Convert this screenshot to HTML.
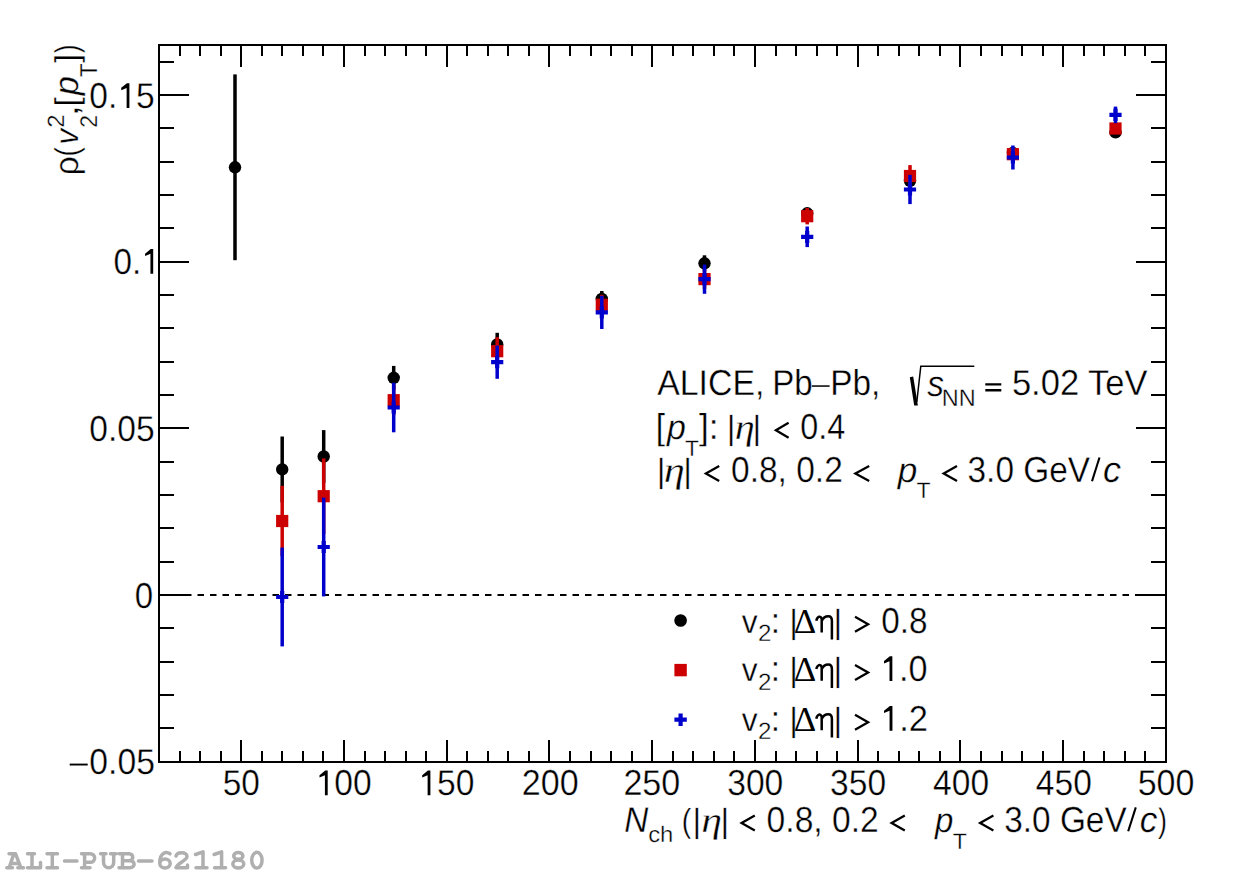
<!DOCTYPE html>
<html><head><meta charset="utf-8"><style>
html,body{margin:0;padding:0;background:#fff;width:1240px;height:875px;overflow:hidden}
svg{display:block;position:absolute;left:0;top:0}
text{stroke:#fff;stroke-width:0.35px}
text[font-family="Liberation Serif"]:not([font-style]){stroke:none}
</style></head><body>
<svg width="1240" height="875" viewBox="0 0 1240 875" font-family="'Liberation Sans', sans-serif" text-rendering="geometricPrecision">
<rect x="159" y="45" width="1007" height="717" fill="none" stroke="#000" stroke-width="2"/>
<path d="M159 762V751M159 45V56M180 762V751M180 45V56M200 762V751M200 45V56M221 762V751M221 45V56M241 762V740M241 45V67M262 762V751M262 45V56M282 762V751M282 45V56M303 762V751M303 45V56M323 762V751M323 45V56M344 762V740M344 45V67M365 762V751M365 45V56M385 762V751M385 45V56M406 762V751M406 45V56M426 762V751M426 45V56M447 762V740M447 45V67M467 762V751M467 45V56M488 762V751M488 45V56M508 762V751M508 45V56M529 762V751M529 45V56M549 762V740M549 45V67M570 762V751M570 45V56M591 762V751M591 45V56M611 762V751M611 45V56M632 762V751M632 45V56M652 762V740M652 45V67M673 762V751M673 45V56M693 762V751M693 45V56M714 762V751M714 45V56M734 762V751M734 45V56M755 762V740M755 45V67M776 762V751M776 45V56M796 762V751M796 45V56M817 762V751M817 45V56M837 762V751M837 45V56M858 762V740M858 45V67M878 762V751M878 45V56M899 762V751M899 45V56M919 762V751M919 45V56M940 762V751M940 45V56M960 762V740M960 45V67M981 762V751M981 45V56M1002 762V751M1002 45V56M1022 762V751M1022 45V56M1043 762V751M1043 45V56M1063 762V740M1063 45V67M1084 762V751M1084 45V56M1104 762V751M1104 45V56M1125 762V751M1125 45V56M1145 762V751M1145 45V56M1166 762V740M1166 45V67M159 762H189M1166 762H1136M159 728H174M1166 728H1151M159 695H174M1166 695H1151M159 662H174M1166 662H1151M159 628H174M1166 628H1151M159 595H189M1166 595H1136M159 562H174M1166 562H1151M159 528H174M1166 528H1151M159 495H174M1166 495H1151M159 462H174M1166 462H1151M159 428H189M1166 428H1136M159 395H174M1166 395H1151M159 362H174M1166 362H1151M159 328H174M1166 328H1151M159 295H174M1166 295H1151M159 262H189M1166 262H1136M159 228H174M1166 228H1151M159 195H174M1166 195H1151M159 162H174M1166 162H1151M159 128H174M1166 128H1151M159 95H189M1166 95H1136M159 62H174M1166 62H1151" stroke="#000" stroke-width="2" fill="none"/>
<line x1="160" y1="595" x2="1165" y2="595" stroke="#000" stroke-width="2" stroke-dasharray="6.5,6"/>
<path d="M235 74.4V260.2" stroke="#000" stroke-width="3.5"/>
<circle cx="235" cy="167.3" r="6.2" fill="#000"/>
<path d="M282.2 436.5V502.3" stroke="#000" stroke-width="3.5"/>
<circle cx="282.2" cy="469.4" r="6.2" fill="#000"/>
<path d="M323.7 430.1V482.9" stroke="#000" stroke-width="3.5"/>
<circle cx="323.7" cy="456.5" r="6.2" fill="#000"/>
<path d="M393.7 365.9V389.7" stroke="#000" stroke-width="3.5"/>
<circle cx="393.7" cy="377.8" r="6.2" fill="#000"/>
<path d="M497.2 332.8V356.2" stroke="#000" stroke-width="3.5"/>
<circle cx="497.2" cy="344.5" r="6.2" fill="#000"/>
<path d="M601.8 291.0V306.8" stroke="#000" stroke-width="3.5"/>
<circle cx="601.8" cy="298.9" r="6.2" fill="#000"/>
<path d="M704.5 255.3V271.3" stroke="#000" stroke-width="3.5"/>
<circle cx="704.5" cy="263.3" r="6.2" fill="#000"/>

<circle cx="807.2" cy="213.3" r="6.2" fill="#000"/>

<circle cx="910" cy="180.8" r="6.2" fill="#000"/>

<circle cx="1012.9" cy="153" r="6.2" fill="#000"/>

<circle cx="1115.5" cy="132.3" r="6.2" fill="#000"/>
<path d="M282.2 485.8V556.2" stroke="#cc0000" stroke-width="3.5"/>
<rect x="276.1" y="514.9" width="12.2" height="12.2" fill="#cc0000"/>
<path d="M323.7 458.4V534.0" stroke="#cc0000" stroke-width="3.5"/>
<rect x="317.6" y="490.1" width="12.2" height="12.2" fill="#cc0000"/>
<path d="M393.7 385.2V415.2" stroke="#cc0000" stroke-width="3.5"/>
<rect x="387.6" y="394.1" width="12.2" height="12.2" fill="#cc0000"/>
<path d="M497.2 337.2V365.2" stroke="#cc0000" stroke-width="3.5"/>
<rect x="491.1" y="345.1" width="12.2" height="12.2" fill="#cc0000"/>
<path d="M601.8 294.8V314.8" stroke="#cc0000" stroke-width="3.5"/>
<rect x="595.7" y="298.7" width="12.2" height="12.2" fill="#cc0000"/>
<path d="M704.5 269.1V289.1" stroke="#cc0000" stroke-width="3.5"/>
<rect x="698.4" y="273.0" width="12.2" height="12.2" fill="#cc0000"/>
<path d="M807.2 208.0V224.4" stroke="#cc0000" stroke-width="3.5"/>
<rect x="801.1" y="210.1" width="12.2" height="12.2" fill="#cc0000"/>
<path d="M910 165.1V186.9" stroke="#cc0000" stroke-width="3.5"/>
<rect x="903.9" y="169.9" width="12.2" height="12.2" fill="#cc0000"/>

<rect x="1006.8" y="148.1" width="12.2" height="12.2" fill="#cc0000"/>

<rect x="1109.4" y="122.4" width="12.2" height="12.2" fill="#cc0000"/>
<path d="M282.2 547.6V646.4" stroke="#0000cc" stroke-width="3.5"/>
<path d="M276.1 597H288.3M282.2 590.9V603.1" stroke="#0000cc" stroke-width="4.2"/>
<path d="M323.7 497.6V596.4" stroke="#0000cc" stroke-width="3.5"/>
<path d="M317.6 547H329.8M323.7 540.9V553.1" stroke="#0000cc" stroke-width="4.2"/>
<path d="M393.7 382.7V432.3" stroke="#0000cc" stroke-width="3.5"/>
<path d="M387.6 407.5H399.8M393.7 401.4V413.6" stroke="#0000cc" stroke-width="4.2"/>
<path d="M497.2 345.6V378.8" stroke="#0000cc" stroke-width="3.5"/>
<path d="M491.1 362.2H503.3M497.2 356.1V368.3" stroke="#0000cc" stroke-width="4.2"/>
<path d="M601.8 295.8V329.0" stroke="#0000cc" stroke-width="3.5"/>
<path d="M595.7 312.4H607.9M601.8 306.3V318.5" stroke="#0000cc" stroke-width="4.2"/>
<path d="M704.5 264.6V293.8" stroke="#0000cc" stroke-width="3.5"/>
<path d="M698.4 279.2H710.6M704.5 273.1V285.3" stroke="#0000cc" stroke-width="4.2"/>
<path d="M807.2 226.5V247.1" stroke="#0000cc" stroke-width="3.5"/>
<path d="M801.1 236.8H813.3M807.2 230.7V242.9" stroke="#0000cc" stroke-width="4.2"/>
<path d="M910 174.9V204.1" stroke="#0000cc" stroke-width="3.5"/>
<path d="M903.9 189.5H916.1M910 183.4V195.6" stroke="#0000cc" stroke-width="4.2"/>
<path d="M1012.9 145.5V169.5" stroke="#0000cc" stroke-width="3.5"/>
<path d="M1006.8 157.5H1019.0M1012.9 151.4V163.6" stroke="#0000cc" stroke-width="4.2"/>
<path d="M1115.5 106.6V123.2" stroke="#0000cc" stroke-width="3.5"/>
<path d="M1109.4 114.9H1121.6M1115.5 108.8V121.0" stroke="#0000cc" stroke-width="4.2"/>
<circle cx="680.6" cy="620.5" r="6.3" fill="#000"/>
<rect x="674.4" y="663.9" width="12.4" height="12.4" fill="#cc0000"/>
<path d="M674.4 719.7H686.8M680.6 713.5V725.9" stroke="#0000cc" stroke-width="4.2"/>
<rect x="69.7" y="763.6" width="18" height="1.9" fill="#000"/>
<text transform="translate(89.29,107.9) scale(0.9324,1)" font-size="36" xml:space="preserve">0. 5</text><polygon points="126.63,88.04 121.22,90.32 121.22,87.86 126.95,83.13 129.41,83.13 129.41,107.90 126.63,107.90"/>
<text transform="translate(113.40,273.7) scale(0.9250,1)" font-size="36" xml:space="preserve">0. </text><polygon points="150.44,253.84 145.07,256.12 145.07,253.66 150.76,248.93 153.20,248.93 153.20,273.70 150.44,273.70"/>
<text transform="translate(89.29,441.0) scale(0.9324,1)" font-size="36" xml:space="preserve">0.05</text>
<text transform="translate(134.71,608.3) scale(0.9182,1)" font-size="36" xml:space="preserve">0</text>
<text transform="translate(89.28,774.4) scale(0.9368,1)" font-size="36" xml:space="preserve">0.05</text>
<text transform="translate(222.66,795.2) scale(0.9277,1)" font-size="36" xml:space="preserve">50</text>
<text transform="translate(315.56,795.2) scale(0.9334,1)" font-size="36" xml:space="preserve"> 00</text><polygon points="324.91,775.34 319.50,777.62 319.50,775.16 325.24,770.43 327.70,770.43 327.70,795.20 324.91,795.20"/>
<text transform="translate(418.26,795.2) scale(0.9334,1)" font-size="36" xml:space="preserve"> 50</text><polygon points="427.61,775.34 422.20,777.62 422.20,775.16 427.94,770.43 430.40,770.43 430.40,795.20 427.61,795.20"/>
<text transform="translate(521.80,795.2) scale(0.9464,1)" font-size="36" xml:space="preserve">200</text>
<text transform="translate(623.40,795.2) scale(0.9464,1)" font-size="36" xml:space="preserve">250</text>
<text transform="translate(727.22,795.2) scale(0.9341,1)" font-size="36" xml:space="preserve">300</text>
<text transform="translate(830.07,795.2) scale(0.9320,1)" font-size="36" xml:space="preserve">350</text>
<text transform="translate(933.08,795.2) scale(0.9320,1)" font-size="36" xml:space="preserve">400</text>
<text transform="translate(1035.83,795.2) scale(0.9320,1)" font-size="36" xml:space="preserve">450</text>
<text transform="translate(1137.64,795.2) scale(0.9440,1)" font-size="36" xml:space="preserve">500</text>
<text transform="translate(657.23,394.7) scale(0.9392,1)" font-size="36" xml:space="preserve">ALICE,</text>
<text transform="translate(772.19,394.7) scale(0.9175,1)" font-size="36" xml:space="preserve">Pb</text>
<rect x="811.8" y="385.3" width="17.8" height="1.5" fill="#000"/>
<text transform="translate(830.27,394.7) scale(0.9259,1)" font-size="36" xml:space="preserve">Pb,</text>
<text transform="translate(927.20,395.7) scale(0.9279,1)" font-size="36" font-style="italic" xml:space="preserve">s</text>
<text transform="translate(941.78,405.5) scale(0.9758,1)" font-size="24" xml:space="preserve">NN</text>
<path d="M985.3 383.3h16v2.3h-16zM985.3 389.1h16v2.3h-16z"/>
<text transform="translate(1011.92,394.7) scale(0.9591,1)" font-size="36" xml:space="preserve">5.02 TeV</text>
<path d="M916.8 402L920.8 366.2H974.3" fill="none" stroke="#000" stroke-width="1.5"/><path d="M909.8 377.3L913.2 376.4L917.9 405.5L914.2 405.6Z" fill="#000"/>
<text transform="translate(655.74,438.7) scale(0.9250,1)" font-size="36" xml:space="preserve">[</text>
<text transform="translate(666.95,438.7) scale(0.9820,1)" font-size="34.5" font-style="italic" xml:space="preserve">p</text>
<text transform="translate(685.00,455.8) scale(1.0360,1)" font-size="22" xml:space="preserve">T</text>
<text transform="translate(698.92,438.7) scale(0.9786,1)" font-size="36" xml:space="preserve">]:</text>
<text transform="translate(726.82,438.7) scale(1.0000,1)" font-size="33.5" xml:space="preserve">|</text>
<text transform="translate(734.85,438.7) scale(1.1204,1)" font-size="36" font-family="Liberation Serif" font-style="italic" xml:space="preserve">η</text>
<text transform="translate(752.62,438.7) scale(1.0000,1)" font-size="33.5" xml:space="preserve">|</text>
<polyline points="788.60,422.70 775.90,430.20 788.60,437.70" fill="none" stroke="#000" stroke-width="2.3" stroke-linejoin="miter"/>
<text transform="translate(800.34,438.7) scale(0.8993,1)" font-size="36" xml:space="preserve">0.4</text>
<text transform="translate(656.72,481.9) scale(1.0000,1)" font-size="33.5" xml:space="preserve">|</text>
<text transform="translate(663.77,481.9) scale(1.1801,1)" font-size="36" font-family="Liberation Serif" font-style="italic" xml:space="preserve">η</text>
<text transform="translate(683.32,481.9) scale(1.0000,1)" font-size="33.5" xml:space="preserve">|</text>
<polyline points="719.20,465.90 705.90,473.40 719.20,480.90" fill="none" stroke="#000" stroke-width="2.3" stroke-linejoin="miter"/>
<text transform="translate(730.99,481.9) scale(0.9308,1)" font-size="36" xml:space="preserve">0.8, 0.2</text>
<polyline points="869.20,465.90 855.40,473.40 869.20,480.90" fill="none" stroke="#000" stroke-width="2.3" stroke-linejoin="miter"/>
<text transform="translate(897.78,481.9) scale(1.0190,1)" font-size="34.5" font-style="italic" xml:space="preserve">p</text>
<text transform="translate(916.49,498.2) scale(1.0440,1)" font-size="22" xml:space="preserve">T</text>
<polyline points="957.00,465.90 943.70,473.40 957.00,480.90" fill="none" stroke="#000" stroke-width="2.3" stroke-linejoin="miter"/>
<text transform="translate(967.53,481.9) scale(0.9277,1)" font-size="36" xml:space="preserve">3.0 GeV</text>
<path d="M1092 481.2L1099.5 457.5" stroke="#000" stroke-width="2.1"/>
<text transform="translate(1103.11,481.9) scale(0.9990,1)" font-size="36" font-style="italic" xml:space="preserve">c</text>
<text transform="translate(741.77,632.8) scale(0.9522,1)" font-size="33.3" xml:space="preserve">v</text>
<text transform="translate(757.89,641.1999999999999) scale(1.0222,1)" font-size="23.6" xml:space="preserve">2</text>
<text transform="translate(770.67,632.8) scale(0.9250,1)" font-size="36" xml:space="preserve">:</text>
<text transform="translate(789.22,632.8) scale(1.0000,1)" font-size="33.5" xml:space="preserve">|</text>
<text transform="translate(793.67,632.8) scale(1.0064,1)" font-size="34.7" font-family="Liberation Serif" xml:space="preserve">Δ</text>
<path d="M816.3 620.8C817.3 616.3 820.6 615.2 821.7 619.0V632.4M821.7 621.0C823.3 617.5 825.8 616.3 828.3 616.3C831.2 616.3 831.9 618.2 831.9 621.0V639.6" fill="none" stroke="#000" stroke-width="2.5"/>
<text transform="translate(833.62,632.8) scale(1.0000,1)" font-size="33.5" xml:space="preserve">|</text>
<polyline points="855.00,616.80 868.10,624.30 855.00,631.80" fill="none" stroke="#000" stroke-width="2.3" stroke-linejoin="miter"/>
<text transform="translate(881.30,632.8) scale(0.9259,1)" font-size="36" xml:space="preserve">0.8</text>
<text transform="translate(741.77,681.1) scale(0.9522,1)" font-size="33.3" xml:space="preserve">v</text>
<text transform="translate(757.89,689.5) scale(1.0222,1)" font-size="23.6" xml:space="preserve">2</text>
<text transform="translate(770.67,681.1) scale(0.9250,1)" font-size="36" xml:space="preserve">:</text>
<text transform="translate(789.22,681.1) scale(1.0000,1)" font-size="33.5" xml:space="preserve">|</text>
<text transform="translate(793.67,681.1) scale(1.0064,1)" font-size="34.7" font-family="Liberation Serif" xml:space="preserve">Δ</text>
<path d="M816.3 669.1C817.3 664.6 820.6 663.5 821.7 667.3V680.7M821.7 669.3C823.3 665.8 825.8 664.6 828.3 664.6C831.2 664.6 831.9 666.5 831.9 669.3V687.9" fill="none" stroke="#000" stroke-width="2.5"/>
<text transform="translate(833.62,681.1) scale(1.0000,1)" font-size="33.5" xml:space="preserve">|</text>
<polyline points="855.00,665.10 868.10,672.60 855.00,680.10" fill="none" stroke="#000" stroke-width="2.3" stroke-linejoin="miter"/>
<text transform="translate(879.99,681.1) scale(0.9501,1)" font-size="36" xml:space="preserve"> .0</text><polygon points="889.51,661.24 884.00,663.52 884.00,661.06 889.85,656.33 892.35,656.33 892.35,681.10 889.51,681.10"/>
<text transform="translate(741.77,730.7) scale(0.9522,1)" font-size="33.3" xml:space="preserve">v</text>
<text transform="translate(757.89,739.1) scale(1.0222,1)" font-size="23.6" xml:space="preserve">2</text>
<text transform="translate(770.67,730.7) scale(0.9250,1)" font-size="36" xml:space="preserve">:</text>
<text transform="translate(789.22,730.7) scale(1.0000,1)" font-size="33.5" xml:space="preserve">|</text>
<text transform="translate(793.67,730.7) scale(1.0064,1)" font-size="34.7" font-family="Liberation Serif" xml:space="preserve">Δ</text>
<path d="M816.3 718.7C817.3 714.2 820.6 713.1 821.7 716.9V730.3M821.7 718.9C823.3 715.4 825.8 714.2 828.3 714.2C831.2 714.2 831.9 716.1 831.9 718.9V737.5" fill="none" stroke="#000" stroke-width="2.5"/>
<text transform="translate(833.62,730.7) scale(1.0000,1)" font-size="33.5" xml:space="preserve">|</text>
<polyline points="855.00,714.70 868.10,722.20 855.00,729.70" fill="none" stroke="#000" stroke-width="2.3" stroke-linejoin="miter"/>
<text transform="translate(879.96,730.7) scale(0.9586,1)" font-size="36" xml:space="preserve"> .2</text><polygon points="889.56,710.84 884.00,713.12 884.00,710.66 889.90,705.93 892.43,705.93 892.43,730.70 889.56,730.70"/>
<text transform="translate(624.27,831.5) scale(0.9250,1)" font-size="36" font-style="italic" xml:space="preserve">N</text>
<text transform="translate(648.20,841.9) scale(1.0584,1)" font-size="22.5" xml:space="preserve">ch</text>
<text transform="translate(681.65,831.5) scale(0.8500,1)" font-size="33.3" xml:space="preserve">(</text>
<text transform="translate(692.62,831.5) scale(1.0000,1)" font-size="33.5" xml:space="preserve">|</text>
<text transform="translate(701.20,831.5) scale(1.1602,1)" font-size="36" font-family="Liberation Serif" font-style="italic" xml:space="preserve">η</text>
<text transform="translate(720.42,831.5) scale(1.0000,1)" font-size="33.5" xml:space="preserve">|</text>
<polyline points="754.80,815.50 741.60,823.00 754.80,830.50" fill="none" stroke="#000" stroke-width="2.3" stroke-linejoin="miter"/>
<text transform="translate(766.59,831.5) scale(0.9342,1)" font-size="36" xml:space="preserve">0.8, 0.2</text>
<polyline points="904.80,815.50 891.60,823.00 904.80,830.50" fill="none" stroke="#000" stroke-width="2.3" stroke-linejoin="miter"/>
<text transform="translate(934.92,831.5) scale(0.9556,1)" font-size="34.5" font-style="italic" xml:space="preserve">p</text>
<text transform="translate(952.69,849.4) scale(1.0520,1)" font-size="22" xml:space="preserve">T</text>
<polyline points="993.40,815.50 980.10,823.00 993.40,830.50" fill="none" stroke="#000" stroke-width="2.3" stroke-linejoin="miter"/>
<text transform="translate(1004.23,831.5) scale(0.9269,1)" font-size="36" xml:space="preserve">3.0 GeV</text>
<path d="M1128.2 831.3L1135.8 807.4" stroke="#000" stroke-width="2.1"/>
<text transform="translate(1139.83,831.5) scale(0.9808,1)" font-size="36" font-style="italic" xml:space="preserve">c</text>
<text transform="translate(1157.94,831.5) scale(0.7834,1)" font-size="34.2" xml:space="preserve">)</text>
<path d="M9 853.7H15.5M13.8 853.7L9.2 867.7M15.5 853.7L20.8 867.7M11 863.4H19M6.8 867.7H12.5M17.8 867.7H23.5M27.5 853.7H34.5M32 853.7V867.7M27.5 867.7H40.5V862.5M47 853.7H57.5M52.3 853.7V867.7M47 867.7H57.5M64.5 861H77M81.5 853.7H90C96.2 853.7 96.2 862.3 90 862.3H84.6M84.6 853.7V867.7M81.5 867.7H90M100.5 853.7H106M110.5 853.7H116M103.5 853.7V862C103.5 869.8 113.7 869.8 113.7 862V853.7M119 853.7H129C134 853.7 134 860.7 129 860.7H122.5M122.5 860.7H130C135.5 860.7 135.5 867.7 130 867.7H119M122.5 853.7V867.7M138.5 861H152M170 853.8C166 851 160 853 159.8 862M176 856C177 851.5 187 851.5 187 856.5C187 860.5 178 862.5 176 867.7H187.5V865M195.5 854.5L203 851.8V867.7M196 867.7H207M214.1 854.5L221.6 851.8V867.7M214.6 867.7H225.6" fill="none" stroke="#afafaf" stroke-width="3.5" stroke-linecap="round" stroke-linejoin="round"/>
<ellipse cx="165" cy="863.5" rx="5.2" ry="4.5" fill="none" stroke="#afafaf" stroke-width="3.5"/>
<ellipse cx="238.3" cy="855.9" rx="4.6" ry="3.4" fill="none" stroke="#afafaf" stroke-width="3.5"/>
<ellipse cx="238.3" cy="864" rx="5.5" ry="4" fill="none" stroke="#afafaf" stroke-width="3.5"/>
<ellipse cx="256.9" cy="860.2" rx="5.15" ry="7.85" fill="none" stroke="#afafaf" stroke-width="3.5"/>
<g transform="translate(0,200) rotate(-90)"><text transform="translate(24.77,78.4) scale(0.9950,1)" font-size="33.5" xml:space="preserve">ρ</text><text transform="translate(43.49,78.4) scale(0.8348,1)" font-size="33" xml:space="preserve">(</text><text transform="translate(55.26,78.4) scale(0.9589,1)" font-size="33" font-style="italic" xml:space="preserve">v</text><text transform="translate(72.29,63.8) scale(1.0222,1)" font-size="23.6" xml:space="preserve">2</text><text transform="translate(72.35,97.1) scale(0.9515,1)" font-size="24.2" xml:space="preserve">2</text><text transform="translate(83.43,78.4) scale(1.2305,1)" font-size="34" xml:space="preserve">,</text><text transform="translate(93.57,78.4) scale(1.0355,1)" font-size="33" xml:space="preserve">[</text><text transform="translate(104.86,78.4) scale(1.0072,1)" font-size="34" font-style="italic" xml:space="preserve">p</text><text transform="translate(122.70,96.8) scale(0.9268,1)" font-size="24.4" xml:space="preserve">T</text><text transform="translate(136.94,78.4) scale(0.9746,1)" font-size="33" xml:space="preserve">]</text><text transform="translate(147.05,78.4) scale(0.7776,1)" font-size="33" xml:space="preserve">)</text></g>
</svg>
</body></html>
